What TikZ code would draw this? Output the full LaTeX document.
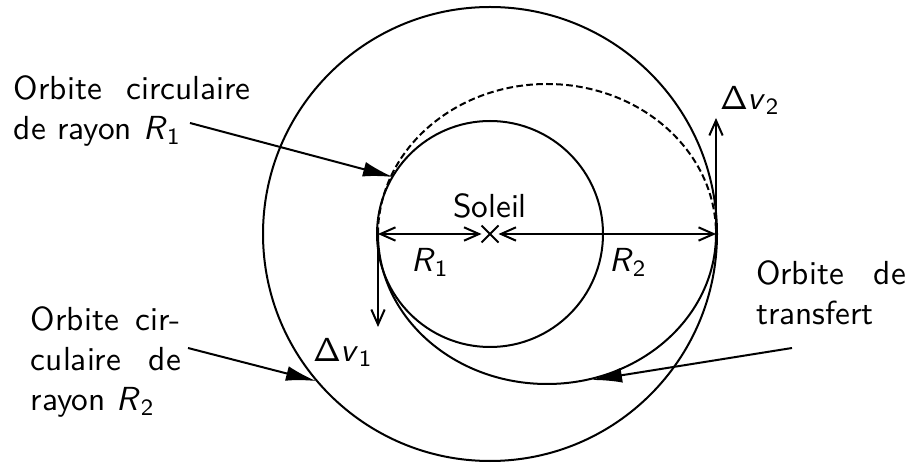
\documentclass[tikz,border=0pt]{standalone}
\renewcommand{\familydefault}{\sfdefault}
\usetikzlibrary{arrows.meta,shapes.misc}
\newcommand{\idx}[2]{\textit{#1}$_{\mathsf{#2}}$}

\begin{document}
\begin{tikzpicture}[
        x=0.3pt, y=-0.3pt, line width=0.6pt,
        lbl/.style={inner sep=0pt, anchor=north west, align=left},
        dimtip/.style={-{Straight Barb[length=4.5pt,width=4pt]}},
        dimboth/.style={{Straight Barb[length=4.5pt,width=4pt]}-{Straight Barb[length=4.5pt,width=4pt]}},
        pointer/.style={-{Latex[length=9pt,width=4.5pt]}}
    ]
    \useasboundingbox (0,0) rectangle (921,463);

    % orbites
    \coordinate (peri) at (378,234);
    \coordinate (aphe) at (716,234);
    \node[cross out, draw, minimum size=4.5pt, inner sep=0pt] (sun) at (490,234) {};
    \draw (sun.center) circle[radius=113];
    \draw (sun.center) circle[radius=227];
    \draw[dash pattern=on 2pt off 1pt] (peri)
        arc[start angle=180, end angle=360, x radius=169, y radius=150];
    \draw (peri)
        arc[start angle=180, end angle=0, x radius=169, y radius=150];

    % rayons
    \draw[dimboth] (peri) -- (sun);
    \draw[dimboth] (sun) -- (aphe);
    \node (soleil) at (490,206) {Soleil};
    \node (r1) at (430,262) {\idx{R}{1}};
    \node (r2) at (628,262) {\idx{R}{2}};

    % impulsions
    \coordinate (dv1end) at (378,327);
    \coordinate (dv2end) at (716,118);
    \draw[dimtip] (peri) -- (dv1end);
    \draw[dimtip] (aphe) -- (dv2end);
    \node (dv1) at (343,352) {$\mathsf{\Delta}$\idx{v}{1}};
    \node (dv2) at (750,100) {$\mathsf{\Delta}$\idx{v}{2}};

    % legendes
    \node[lbl, text width=71pt] (orbone) at (13,75) {
        Orbite \hfill circulaire\\
        de rayon \idx{R}{1}
    };
    \node[lbl, text width=45pt] (orbtwo) at (30,306) {
        Orbite \hfill cir-\\
        culaire \hfill de\\
        rayon \idx{R}{2}
    };
    \node[lbl, text width=45pt] (orbtr) at (755,260) {
        Orbite \hfill de\\
        transfert
    };
    \coordinate (pone) at (190,123);
    \coordinate (ptwo) at (188,348);
    \coordinate (ptr) at (792,348);
    \draw[pointer] (pone) -- (393,177);
    \draw[pointer] (ptwo) -- (316,381);
    \draw[pointer] (ptr) -- (592,380);
\end{tikzpicture}
\end{document}
